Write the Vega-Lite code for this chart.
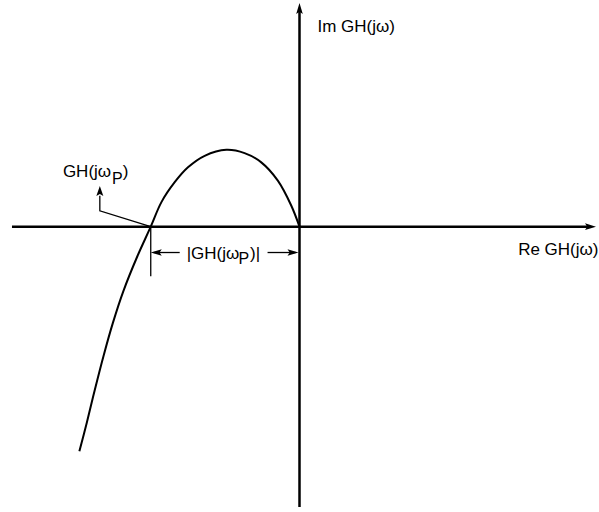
{
  "$schema": "https://vega.github.io/schema/vega-lite/v6.json",
  "width": 599,
  "height": 512,
  "padding": 0,
  "autosize": {"type": "fit", "contains": "padding"},
  "background": "white",
  "config": {"view": {"stroke": null}, "text": {"font": "Liberation Sans, Arial, sans-serif", "fontSize": 17, "color": "black"}},
  "datasets": {
    "axes": [
      {"id": "re", "o": 0, "x": -2.88, "y": 0},
      {"id": "re", "o": 1, "x": 2.9, "y": 0},
      {"id": "im", "o": 0, "x": 0, "y": -2.82},
      {"id": "im", "o": 1, "x": 0, "y": 2.18}
    ],
    "curve": [
      {"o": 0, "x": 0, "y": 0},
      {"o": 1, "x": -0.083, "y": 0.213},
      {"o": 2, "x": -0.217, "y": 0.463},
      {"o": 3, "x": -0.383, "y": 0.647},
      {"o": 4, "x": -0.55, "y": 0.74},
      {"o": 5, "x": -0.733, "y": 0.773},
      {"o": 6, "x": -0.95, "y": 0.713},
      {"o": 7, "x": -1.117, "y": 0.597},
      {"o": 8, "x": -1.25, "y": 0.447},
      {"o": 9, "x": -1.383, "y": 0.247},
      {"o": 10, "x": -1.49, "y": 0},
      {"o": 11, "x": -1.625, "y": -0.3},
      {"o": 12, "x": -1.765, "y": -0.65},
      {"o": 13, "x": -1.87, "y": -0.97},
      {"o": 14, "x": -1.963, "y": -1.3},
      {"o": 15, "x": -2.05, "y": -1.64},
      {"o": 16, "x": -2.13, "y": -1.97},
      {"o": 17, "x": -2.205, "y": -2.26}
    ],
    "thin": [
      {"id": "leader", "o": 0, "x": -2.0, "y": 0.31},
      {"id": "leader", "o": 1, "x": -2.0, "y": 0.16},
      {"id": "leader", "o": 2, "x": -1.49, "y": 0},
      {"id": "tick", "o": 0, "x": -1.49, "y": 0},
      {"id": "tick", "o": 1, "x": -1.49, "y": -0.5},
      {"id": "dimL", "o": 0, "x": -1.46, "y": -0.26},
      {"id": "dimL", "o": 1, "x": -1.2, "y": -0.26},
      {"id": "dimR", "o": 0, "x": -0.32, "y": -0.26},
      {"id": "dimR", "o": 1, "x": -0.04, "y": -0.26}
    ],
    "heads": [
      {"dir": "up", "x": 0, "y": 2.25},
      {"dir": "right", "x": 2.97, "y": 0},
      {"dir": "upsmall", "x": -2.0, "y": 0.41},
      {"dir": "left", "x": -1.49, "y": -0.26},
      {"dir": "right", "x": -0.01, "y": -0.26}
    ],
    "labels": [
      {"t": "Im GH(jω)", "x": 0.18, "y": 1.96},
      {"t": "Re GH(jω)", "x": 2.19, "y": -0.28},
      {"t": "GH(jω", "x": -2.37, "y": 0.5},
      {"t": ")", "x": -1.77, "y": 0.5},
      {"t": "|GH(jω", "x": -1.13, "y": -0.33},
      {"t": ")|", "x": -0.495, "y": -0.33}
    ],
    "subs": [
      {"t": "P", "x": -1.878, "y": 0.43},
      {"t": "P", "x": -0.61, "y": -0.38}
    ]
  },
  "encoding": {
    "x": {"field": "x", "type": "quantitative", "scale": {"domain": [-3, 2.99], "nice": false, "zero": false}, "axis": null},
    "y": {"field": "y", "type": "quantitative", "scale": {"domain": [-2.84, 2.28], "nice": false, "zero": false}, "axis": null}
  },
  "layer": [
    {
      "data": {"name": "axes"},
      "mark": {"type": "line", "color": "black", "strokeWidth": 2.5},
      "encoding": {"detail": {"field": "id"}, "order": {"field": "o"}}
    },
    {
      "data": {"name": "curve"},
      "mark": {"type": "line", "color": "black", "strokeWidth": 2, "interpolate": "catmull-rom"},
      "encoding": {"order": {"field": "o"}}
    },
    {
      "data": {"name": "thin"},
      "mark": {"type": "line", "color": "black", "strokeWidth": 1.3},
      "encoding": {"detail": {"field": "id"}, "order": {"field": "o"}}
    },
    {
      "data": {"name": "heads"},
      "transform": [{"filter": "datum.dir == 'up'"}],
      "mark": {"type": "point", "shape": "M0,0L0.6,2L0,1.6L-0.6,2Z", "size": 121, "filled": true, "color": "black", "opacity": 1}
    },
    {
      "data": {"name": "heads"},
      "transform": [{"filter": "datum.dir == 'upsmall'"}],
      "mark": {"type": "point", "shape": "M0,0L0.7,2L0,1.6L-0.7,2Z", "size": 100, "filled": true, "color": "black", "opacity": 1}
    },
    {
      "data": {"name": "heads"},
      "transform": [{"filter": "datum.dir == 'right'"}],
      "mark": {"type": "point", "shape": "M0,0L0.6,2L0,1.6L-0.6,2Z", "size": 121, "filled": true, "color": "black", "opacity": 1, "angle": 90}
    },
    {
      "data": {"name": "heads"},
      "transform": [{"filter": "datum.dir == 'left'"}],
      "mark": {"type": "point", "shape": "M0,0L0.6,2L0,1.6L-0.6,2Z", "size": 121, "filled": true, "color": "black", "opacity": 1, "angle": 270}
    },
    {
      "data": {"name": "labels"},
      "mark": {"type": "text", "align": "left", "baseline": "alphabetic"},
      "encoding": {"text": {"field": "t"}}
    },
    {
      "data": {"name": "subs"},
      "mark": {"type": "text", "align": "left", "baseline": "alphabetic", "fontSize": 16},
      "encoding": {"text": {"field": "t"}}
    }
  ]
}
